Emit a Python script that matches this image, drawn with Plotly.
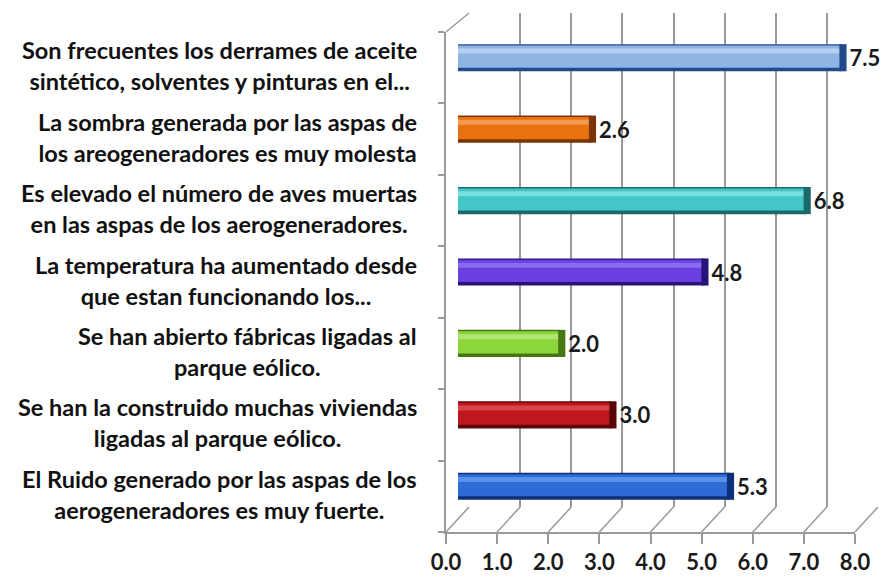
import plotly.graph_objects as go

# ---------------- data ----------------
categories = [
    "Son frecuentes los derrames de aceite<br>sintético, solventes y pinturas en el...",
    "La sombra generada por las aspas de<br>los areogeneradores es muy molesta",
    "Es elevado el número de aves muertas<br>en las aspas de los aerogeneradores.",
    "La temperatura ha aumentado desde<br>que estan funcionando los...",
    "Se han abierto fábricas ligadas al<br>parque eólico.",
    "Se han la construido muchas viviendas<br>ligadas al parque eólico.",
    "El Ruido generado por las aspas de los<br>aerogeneradores es muy fuerte.",
]
values = [7.5, 2.6, 6.8, 4.8, 2.0, 3.0, 5.3]
tick_values = [0, 1, 2, 3, 4, 5, 6, 7, 8]
tick_labels = ["0.0", "1.0", "2.0", "3.0", "4.0", "5.0", "6.0", "7.0", "8.0"]

main_colors = ["#8DB4E2", "#E8720E", "#45C6C6", "#6A40E2", "#8CD63C", "#C0171F", "#2E6BD6"]
dark_colors = ["#254A8A", "#7A3405", "#1A6A6C", "#261478", "#467812", "#5A0808", "#0E307A"]
light_colors = ["#B4CFF0", "#F39A50", "#78DEDE", "#8A6AF0", "#AEE672", "#D8444A", "#5A90EA"]

# ---------------- geometry (screen pixels) ----------------
W, H = 887, 577
def fx(p): return p / W
def fy(p): return 1 - p / H

FRONT_X, FRONT_Y = (446, 855), (32, 532)
BACK_X, BACK_Y = (469, 878), (13, 507)
MID_X, MID_Y = (458, 867), (22, 522)
GRID = "#9A9A9A"

n = len(categories)
cats_up = categories[::-1]
vals_up = values[::-1]
main_up, dark_up, light_up = main_colors[::-1], dark_colors[::-1], light_colors[::-1]
xr = [tick_values[0], tick_values[-1]]

fig = go.Figure()

# invisible anchors so the back wall (xy) and the front frame (x2y2) are drawn
fig.add_trace(go.Scatter(x=xr, y=[0, 1], mode="markers", marker=dict(opacity=0),
                         hoverinfo="skip", showlegend=False, xaxis="x", yaxis="y"))
fig.add_trace(go.Scatter(x=xr, y=[-0.5, n - 0.5], mode="markers", marker=dict(opacity=0),
                         hoverinfo="skip", showlegend=False, xaxis="x2", yaxis="y2"))

common = dict(xaxis="x3", yaxis="y3", orientation="h", hoverinfo="skip", showlegend=False)
# dark body
fig.add_trace(go.Bar(x=vals_up, y=cats_up, width=0.38, offset=-0.19,
                     marker=dict(color=dark_up, line=dict(width=0)), **common))
# main colour
fig.add_trace(go.Bar(x=vals_up, y=cats_up, width=0.31, offset=-0.14,
                     marker=dict(color=main_up, line=dict(width=0)), **common))
# highlight
fig.add_trace(go.Bar(x=vals_up, y=cats_up, width=0.07, offset=0.06,
                     marker=dict(color=light_up, line=dict(width=0)), **common))
# end cap with value label
CAP = 0.14
fig.add_trace(go.Bar(x=[CAP] * n, base=[v - 0.04 for v in vals_up], y=cats_up,
                     width=0.38, offset=-0.19,
                     marker=dict(color=dark_up, line=dict(width=0)),
                     text=[f"{v:.1f}" for v in vals_up], textposition="outside",
                     constraintext="none", cliponaxis=False,
                     textfont=dict(family="Lato", size=22, color="#1A1A1A", weight="bold"),
                     **common))

fig.update_layout(
    width=W, height=H, autosize=False,
    margin=dict(l=0, r=0, t=0, b=0, pad=0, autoexpand=False),
    paper_bgcolor="white", plot_bgcolor="rgba(0,0,0,0)",
    barmode="overlay", showlegend=False,
    # back wall
    xaxis=dict(domain=[fx(BACK_X[0]), fx(BACK_X[1])], range=xr, anchor="y", automargin=False,
               tickvals=tick_values, showgrid=True, gridcolor=GRID, gridwidth=1.5,
               zeroline=False, showticklabels=False, ticks="", showline=False),
    yaxis=dict(domain=[fy(BACK_Y[1]), fy(BACK_Y[0])], range=[0, 1], anchor="x", automargin=False,
               showgrid=False, zeroline=False, showticklabels=False, ticks="", showline=False),
    # front frame
    xaxis2=dict(domain=[fx(FRONT_X[0]), fx(FRONT_X[1])], range=xr, anchor="y2", automargin=False,
                tickvals=tick_values, ticktext=tick_labels, ticks="outside", ticklen=10,
                tickcolor=GRID, tickwidth=1.5, showline=True, linecolor=GRID, linewidth=1.5,
                showgrid=False, zeroline=False,
                tickfont=dict(family="Lato", size=22, color="#1A1A1A", weight="bold")),
    yaxis2=dict(domain=[fy(FRONT_Y[1]), fy(FRONT_Y[0])], range=[-0.5, n - 0.5], anchor="x2",
                automargin=False,
                tickvals=[i - 0.5 for i in range(n + 1)], ticks="outside", ticklen=6,
                tickcolor=GRID, tickwidth=1.5, showline=True, linecolor=GRID, linewidth=1.5,
                showgrid=False, zeroline=False, showticklabels=False),
    # bars
    xaxis3=dict(domain=[fx(MID_X[0]), fx(MID_X[1])], range=xr, anchor="y3", automargin=False,
                visible=False),
    yaxis3=dict(domain=[fy(MID_Y[1]), fy(MID_Y[0])], range=[-0.5, n - 0.5], anchor="x3",
                automargin=False,
                type="category", categoryorder="array", categoryarray=cats_up, visible=False),
)

# floor diagonals and top-left edge of the 3-D frame
def front_px(t):
    return FRONT_X[0] + (t - xr[0]) / (xr[1] - xr[0]) * (FRONT_X[1] - FRONT_X[0])
def back_px(t):
    return BACK_X[0] + (t - xr[0]) / (xr[1] - xr[0]) * (BACK_X[1] - BACK_X[0])

shapes = []
for t in tick_values:
    shapes.append(dict(type="line", xref="paper", yref="paper",
                       x0=fx(front_px(t)), y0=fy(FRONT_Y[1]),
                       x1=fx(back_px(t)), y1=fy(BACK_Y[1]),
                       line=dict(color=GRID, width=1.5), layer="below"))
shapes.append(dict(type="line", xref="paper", yref="paper",
                   x0=fx(FRONT_X[0]), y0=fy(FRONT_Y[0]),
                   x1=fx(BACK_X[0]), y1=fy(BACK_Y[0]),
                   line=dict(color=GRID, width=1.5), layer="below"))
fig.update_layout(shapes=shapes)

# category labels (centred multi-line text, right edge near the frame)
for c in categories:
    fig.add_annotation(text=c, xref="paper", yref="y3", x=fx(419), y=c,
                       xanchor="right", yanchor="middle", align="center", showarrow=False,
                       yshift=-8,
                       font=dict(family="Lato", size=23.5, color="#111111", weight="bold"))

fig.write_html(
    "out.html",
    config={"displayModeBar": False},
    post_script="document.body.style.margin='0';document.body.style.overflow='hidden';",
)
